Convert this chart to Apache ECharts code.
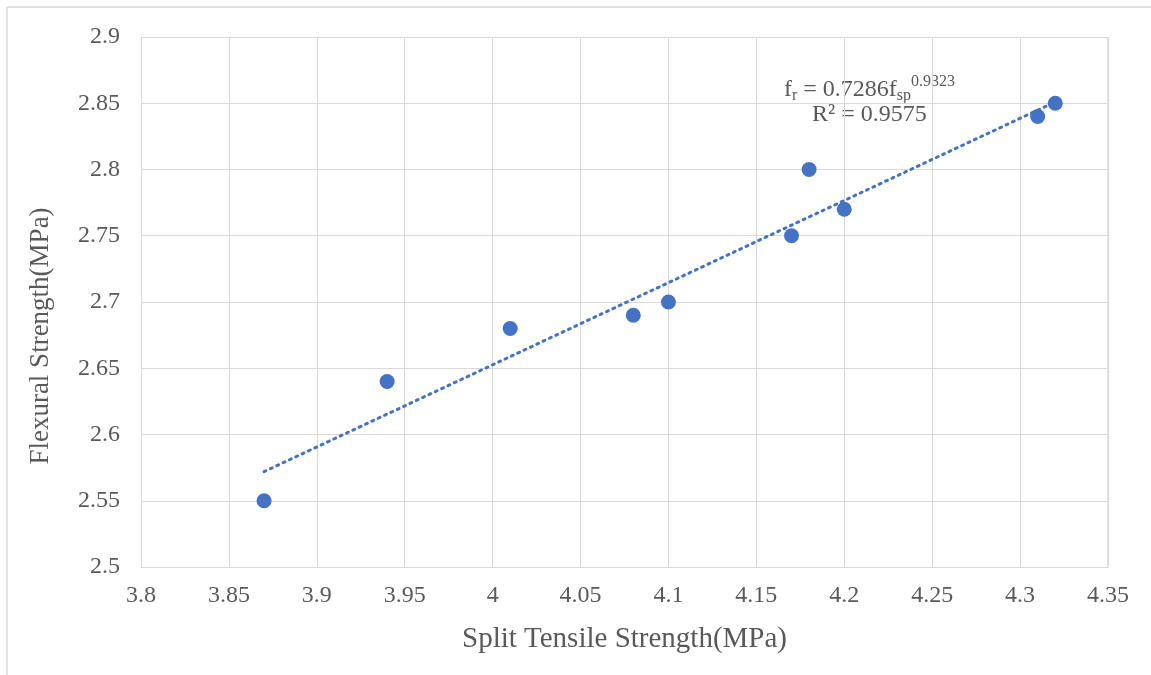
<!DOCTYPE html>
<html>
<head>
<meta charset="utf-8">
<script src="https://cdn.jsdelivr.net/npm/echarts@6/dist/echarts.min.js"></script>
<style>
html,body{margin:0;padding:0;background:#fff;}
#chart{width:1151px;height:675px;}
</style>
</head>
<body>
<div id="chart"></div>
<script>
// split tensile vs flexural strength
var splitTensile = [3.87, 3.94, 4.01, 4.08, 4.10, 4.17, 4.18, 4.20, 4.31, 4.32];
var flexural = [2.55, 2.64, 2.68, 2.69, 2.70, 2.75, 2.80, 2.77, 2.84, 2.85];
// power trendline ends
var trendX = [3.87, 4.32];
var trendY = [2.572, 2.851];

var points = [];
for (var i = 0; i < splitTensile.length; i++) {
    points.push([splitTensile[i], flexural[i]]);
}
var trend = [];
for (var j = 0; j < trendX.length; j++) {
    trend.push([trendX[j], trendY[j]]);
}

var font = 'Liberation Serif';
var myChart = echarts.init(document.getElementById('chart'));
var option = {
    animation: false,
    textStyle: {fontFamily: font},
    grid: {left: 141, right: 43, top: 37, bottom: 108},
    xAxis: {
        type: 'value',
        min: 3.8,
        max: 4.35,
        interval: 0.05,
        name: 'Split Tensile Strength(MPa)',
        nameLocation: 'middle',
        nameGap: 58,
        nameTextStyle: {fontFamily: font, fontSize: 29, color: '#595959'},
        axisLine: {show: true, lineStyle: {color: '#d9d9d9', width: 1}},
        axisTick: {show: false},
        axisLabel: {
            fontFamily: font, fontSize: 24, color: '#595959', margin: 17,
            formatter: function (v) { return parseFloat(v.toFixed(2)).toString(); }
        },
        splitLine: {show: true, lineStyle: {color: '#d9d9d9', width: 1}}
    },
    yAxis: {
        type: 'value',
        min: 2.5,
        max: 2.9,
        interval: 0.05,
        axisLine: {show: true, lineStyle: {color: '#d9d9d9', width: 1}},
        axisTick: {show: false},
        axisLabel: {
            fontFamily: font, fontSize: 24, color: '#595959', margin: 21,
            formatter: function (v) { return parseFloat(v.toFixed(2)).toString(); }
        },
        splitLine: {show: true, lineStyle: {color: '#d9d9d9', width: 1}}
    },
    graphic: [
        {type: 'line', shape: {x1: 7, y1: 7, x2: 1151, y2: 7}, style: {stroke: '#d9d9d9', lineWidth: 1.5}},
        {type: 'line', shape: {x1: 7, y1: 7, x2: 7, y2: 675}, style: {stroke: '#d9d9d9', lineWidth: 1.5}},
        {type: 'line', shape: {x1: 1108, y1: 37, x2: 1108, y2: 567}, style: {stroke: '#d9d9d9', lineWidth: 1.5}},
        {
            // y axis title, sits a little below the plot's middle
            type: 'text', x: 41, y: 336, rotation: Math.PI / 2,
            style: {
                text: 'Flexural Strength(MPa)', fontFamily: font, fontSize: 27, fill: '#595959',
                align: 'center', verticalAlign: 'middle'
            }
        },
        {
            type: 'text', left: 784, top: 74,
            style: {
                text: '{n|f}{s|r}{n| = 0.7286f}{s|sp}{p|0.9323}',
                rich: {
                    n: {fontFamily: font, fontSize: 24, fill: '#595959', verticalAlign: 'bottom'},
                    s: {fontFamily: font, fontSize: 16, fill: '#595959', verticalAlign: 'bottom', padding: [0, 0, -2, 0]},
                    p: {fontFamily: font, fontSize: 16, fill: '#595959', verticalAlign: 'top', padding: [0, 0, 12, 0]}
                }
            }
        },
        {
            type: 'text', left: 812, top: 103,
            style: {text: 'R² = 0.9575', fontFamily: font, fontSize: 24, fill: '#595959'}
        }
    ],
    series: [
        {
            type: 'line',
            data: trend,
            symbol: 'none',
            lineStyle: {color: '#4472C4', width: 3, type: [2, 5], cap: 'round'},
            z: 2
        },
        {
            type: 'scatter',
            data: points,
            symbolSize: 15,
            itemStyle: {color: '#4472C4', opacity: 1},
            z: 3
        }
    ]
};
myChart.setOption(option);
</script>
</body>
</html>
